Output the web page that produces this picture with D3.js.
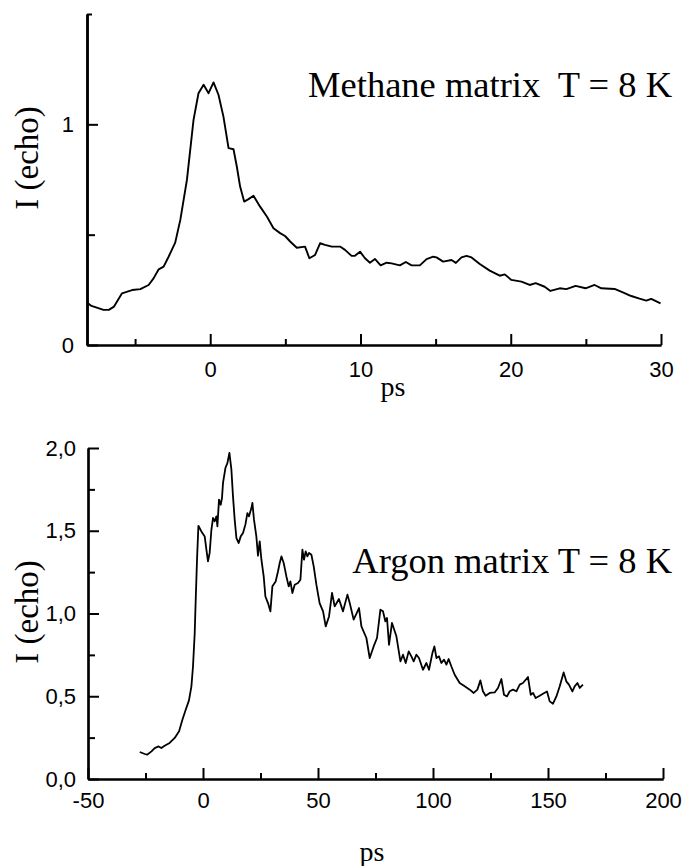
<!DOCTYPE html>
<html>
<head>
<meta charset="utf-8">
<script src="https://cdnjs.cloudflare.com/ajax/libs/d3/7.8.5/d3.min.js"></script>
<style>
  body { margin: 0; background: #ffffff; }
  .tick text { font-family: "Liberation Sans", Arial, sans-serif; font-size: 22px; fill: #000; }
  .serif { font-family: "Liberation Serif", "Times New Roman", serif; fill: #000; }
</style>
</head>
<body>
<div class="visual-data"></div>
<script>
//Methane (top) and argon (bottom) echo traces
const width = 683;
const height = 866;

//Methane matrix, T = 8 K
const methaneTime = [-8.2, -7.9, -7.1, -6.75, -6.4, -5.87, -5.2, -4.65, -4.1, -3.77, -3.43, -3.1, -2.77, -2.33,
  -1.99, -1.55, -1.11, -0.78, -0.44, -0.11, 0.22, 0.55, 0.88, 1.22, 1.55, 1.77, 1.99, 2.26, 2.55, 2.88,
  3.32, 3.77, 4.21, 4.65, 4.98, 5.32, 5.76, 6.31, 6.6, 6.98, 7.31, 7.64, 8.09, 8.64, 8.97, 9.41, 9.63,
  9.97, 10.3, 10.63, 10.96, 11.34, 11.74, 12.07, 12.62, 13.02, 13.4, 13.95, 14.4, 14.84, 15.06, 15.5,
  16.06, 16.35, 16.72, 17.06, 17.39, 17.94, 18.6, 19.27, 19.6, 20.04, 20.71, 21.26, 21.66, 22.26, 22.64,
  23.26, 23.7, 24.32, 24.98, 25.58, 26.03, 26.91, 27.46, 28.02, 28.57, 29.02, 29.35, 29.97];
const methaneEcho = [0.192, 0.177, 0.159, 0.159, 0.174, 0.234, 0.249, 0.253, 0.272, 0.302, 0.343, 0.355, 0.40, 0.464,
  0.567, 0.748, 1.02, 1.141, 1.179, 1.141, 1.19, 1.134, 1.035, 0.892, 0.887, 0.809, 0.718, 0.65, 0.661, 0.676,
  0.627, 0.582, 0.529, 0.507, 0.494, 0.469, 0.441, 0.446, 0.393, 0.408, 0.461, 0.454, 0.446, 0.446, 0.431, 0.404, 0.404,
  0.423, 0.393, 0.373, 0.39, 0.361, 0.373, 0.37, 0.361, 0.376, 0.361, 0.361, 0.389, 0.40, 0.397, 0.378,
  0.385, 0.372, 0.397, 0.404, 0.397, 0.367, 0.337, 0.314, 0.32, 0.295, 0.287, 0.272, 0.28, 0.264, 0.245,
  0.257, 0.253, 0.268, 0.257, 0.272, 0.257, 0.254, 0.239, 0.222, 0.21, 0.201, 0.209, 0.189];

//Argon matrix, T = 8 K
const argonTime = [-27.5, -25.3, -24.3, -22.4, -21, -19.3, -18.1, -16.7, -14.5, -12.3, -10.4, -8.96, -7.52, -6.1,
  -5.04, -4.35, -3.6, -3.17, -2.6, -2.0, -0.7, 0.74, 1.48, 2.17, 2.9, 3.65, 4.35, 5.09, 5.83, 6.26, 6.96,
  7.7, 8.26, 8.7, 9.74, 10.6, 11.48, 12.35, 13.04, 13.78, 14.52, 15.52, 16.4, 17.4, 18.43, 19.3, 20.0,
  21.04, 21.48, 22.17, 23.2, 23.9, 24.65, 25.4, 26.39, 27.13, 28.26, 29.3, 30.17, 31.6, 32.6, 33.35, 34.09,
  35.09, 36.26, 37.26, 38.0, 38.87, 39.87, 41.3, 42.35, 43.22, 43.9, 44.65, 45.39, 46.1, 47.13, 48.13,
  49.3, 50.7, 52.2, 53.35, 54.8, 56.1, 57.26, 59.1, 60.87, 62.8, 63.8, 65.5, 67.83, 68.87, 71.04, 72.48,
  74.2, 75.65, 77.13, 78.26, 79.3, 80.0, 80.87, 82.17, 84.09, 85.83, 86.96, 88.13, 89.43, 90.6, 91.6,
  92.78, 93.9, 95.65, 97.13, 98.26, 99.74, 100.6, 101.5, 102.6, 103.65, 104.8, 105.83, 106.8, 108.0,
  109.43, 111.6, 113.8, 115.96, 117.7, 119.3, 120.6, 121.7, 122.9, 124.65, 126.8, 128.26, 129.74, 130.87,
  132.17, 133.35, 134.8, 136.26, 137.7, 139.1, 141.3, 142.5, 143.5, 144.65, 146.4, 147.8, 149.57, 150.74,
  152.17, 153.65, 155.1, 156.8, 157.96, 159.1, 160.6, 161.6, 162.8, 163.8, 165.2];
const argonEcho = [0.163, 0.151, 0.147, 0.167, 0.187, 0.197, 0.187, 0.201, 0.218, 0.248, 0.288, 0.358, 0.419, 0.475,
  0.56, 0.68, 0.882, 1.083, 1.325, 1.53, 1.496, 1.466, 1.386, 1.315, 1.366, 1.506, 1.577, 1.557, 1.587, 1.526, 1.688,
  1.657, 1.698, 1.789, 1.879, 1.909, 1.97, 1.869, 1.708, 1.567, 1.456, 1.426, 1.466, 1.486, 1.537, 1.607, 1.587,
  1.637, 1.668, 1.567, 1.466, 1.349, 1.436, 1.325, 1.224, 1.103, 1.063, 1.013, 1.164, 1.194, 1.254, 1.305, 1.345,
  1.305, 1.224, 1.164, 1.194, 1.124, 1.174, 1.184, 1.204, 1.386, 1.325, 1.375, 1.345, 1.366, 1.355, 1.285,
  1.174, 1.063, 1.013, 0.922, 0.982, 1.124, 1.043, 1.088, 1.013, 1.114, 1.063, 0.963, 1.033, 0.922, 0.852, 0.731,
  0.801, 0.852, 1.023, 1.013, 0.952, 0.973, 0.811, 0.943, 0.862, 0.711, 0.751, 0.701, 0.771, 0.741, 0.711,
  0.751, 0.731, 0.66, 0.701, 0.66, 0.761, 0.801, 0.731, 0.741, 0.701, 0.721, 0.691, 0.725, 0.68,
  0.63, 0.58, 0.56, 0.54, 0.52, 0.54, 0.596, 0.53, 0.503, 0.52, 0.523, 0.55, 0.604, 0.509,
  0.499, 0.53, 0.54, 0.53, 0.57, 0.58, 0.616, 0.509, 0.52, 0.489, 0.503, 0.515, 0.529, 0.469,
  0.455, 0.499, 0.56, 0.644, 0.59, 0.57, 0.529, 0.56, 0.58, 0.55, 0.57];

//Tick values
const methaneXMajor = [0, 10, 20, 30];
const methaneXMinor = [-5, 5, 15, 25];
const methaneYLabeled = [0, 1];
const methaneYMid = [0.5];
const methaneYTop = [1.5];
const argonXMajor = [-50, 0, 50, 100, 150, 200];
const argonXMinor = [-25, 25, 75, 125, 175];
const argonYMajor = [0, 0.5, 1, 1.5, 2];
const argonYMinor = [0.25, 0.75, 1.25, 1.75];

var svgContainer = d3.select(".visual-data")
                     .append("svg")
                     .attr("width", width)
                     .attr("height", height)
                     .style("background-color", "#FFFFFF");

function styleAxis(g) {
  g.selectAll(".domain").attr("stroke", "#000").attr("stroke-width", 2.2);
  g.selectAll(".tick line").attr("stroke", "#000").attr("stroke-width", 2);
}
//plain hyphen for negatives, like the original figure
const plainFormat = d => String(d);

//---------- top panel ----------
const xTop = d3.scaleLinear().domain([-8.2, 30]).range([87, 661]);
const yTop = d3.scaleLinear().domain([0, 1.5]).range([345, 14]);

svgContainer.append("g")
            .attr("transform", "translate(0," + yTop(0) + ")")
            .call(d3.axisBottom(xTop).tickValues(methaneXMinor).tickSize(-6).tickSizeOuter(0).tickFormat(""))
            .call(styleAxis);
svgContainer.append("g")
            .attr("transform", "translate(0," + yTop(0) + ")")
            .call(d3.axisBottom(xTop).tickValues(methaneXMajor).tickSize(-11).tickSizeOuter(0).tickPadding(16).tickFormat(plainFormat))
            .call(styleAxis);
svgContainer.append("g")
            .attr("transform", "translate(" + xTop.range()[0] + ",0)")
            .call(d3.axisLeft(yTop).tickValues(methaneYMid).tickSize(-8).tickSizeOuter(0).tickFormat(""))
            .call(styleAxis);
svgContainer.append("g")
            .attr("transform", "translate(" + xTop.range()[0] + ",0)")
            .call(d3.axisLeft(yTop).tickValues(methaneYTop).tickSize(-5).tickSizeOuter(0).tickFormat(""))
            .call(styleAxis);
svgContainer.append("g")
            .attr("transform", "translate(" + xTop.range()[0] + ",0)")
            .call(d3.axisLeft(yTop).tickValues(methaneYLabeled).tickSize(-11).tickSizeOuter(0).tickPadding(13).tickFormat(plainFormat))
            .call(styleAxis);

svgContainer.append("path")
            .datum(d3.range(methaneTime.length))
            .attr("fill", "none")
            .attr("stroke", "#000")
            .attr("stroke-width", 1.9)
            .attr("stroke-linejoin", "round")
            .attr("d", d3.line().x(i => xTop(methaneTime[i])).y(i => yTop(methaneEcho[i])));

svgContainer.append("text")
            .attr("class", "serif")
            .attr("x", 672)
            .attr("y", 97)
            .attr("text-anchor", "end")
            .style("font-size", "36.5px")
            .style("white-space", "pre")
            .text("Methane matrix  T = 8 K");
svgContainer.append("text")
            .attr("class", "serif")
            .attr("x", 393)
            .attr("y", 396)
            .attr("text-anchor", "middle")
            .style("font-size", "28px")
            .text("ps");
svgContainer.append("text")
            .attr("class", "serif")
            .attr("transform", "translate(38,158) rotate(-90)")
            .attr("text-anchor", "middle")
            .style("font-size", "33px")
            .text("I (echo)");

//---------- bottom panel ----------
const xBot = d3.scaleLinear().domain([-50, 200]).range([88, 663]);
const yBot = d3.scaleLinear().domain([0, 2]).range([779, 448]);
const commaFormat = d => d3.format(".1f")(d).replace(".", ",");

svgContainer.append("g")
            .attr("transform", "translate(0," + yBot(0) + ")")
            .call(d3.axisBottom(xBot).tickValues(argonXMinor).tickSize(-6).tickSizeOuter(0).tickFormat(""))
            .call(styleAxis);
svgContainer.append("g")
            .attr("transform", "translate(0," + yBot(0) + ")")
            .call(d3.axisBottom(xBot).tickValues(argonXMajor).tickSize(-11).tickSizeOuter(0).tickPadding(13).tickFormat(plainFormat))
            .call(styleAxis);
svgContainer.append("g")
            .attr("transform", "translate(" + xBot.range()[0] + ",0)")
            .call(d3.axisLeft(yBot).tickValues(argonYMinor).tickSize(-7).tickSizeOuter(0).tickFormat(""))
            .call(styleAxis);
svgContainer.append("g")
            .attr("transform", "translate(" + xBot.range()[0] + ",0)")
            .call(d3.axisLeft(yBot).tickValues(argonYMajor).tickSize(-11).tickSizeOuter(0).tickPadding(12).tickFormat(commaFormat))
            .call(styleAxis);

svgContainer.append("path")
            .datum(d3.range(argonTime.length))
            .attr("fill", "none")
            .attr("stroke", "#000")
            .attr("stroke-width", 1.8)
            .attr("stroke-linejoin", "round")
            .attr("d", d3.line().x(i => xBot(argonTime[i])).y(i => yBot(argonEcho[i])));

svgContainer.append("text")
            .attr("class", "serif")
            .attr("x", 672)
            .attr("y", 573)
            .attr("text-anchor", "end")
            .style("font-size", "36.5px")
            .text("Argon matrix T = 8 K");
svgContainer.append("text")
            .attr("class", "serif")
            .attr("x", 372)
            .attr("y", 861)
            .attr("text-anchor", "middle")
            .style("font-size", "28px")
            .text("ps");
svgContainer.append("text")
            .attr("class", "serif")
            .attr("transform", "translate(38,612) rotate(-90)")
            .attr("text-anchor", "middle")
            .style("font-size", "33px")
            .text("I (echo)");
</script>
</body>
</html>
